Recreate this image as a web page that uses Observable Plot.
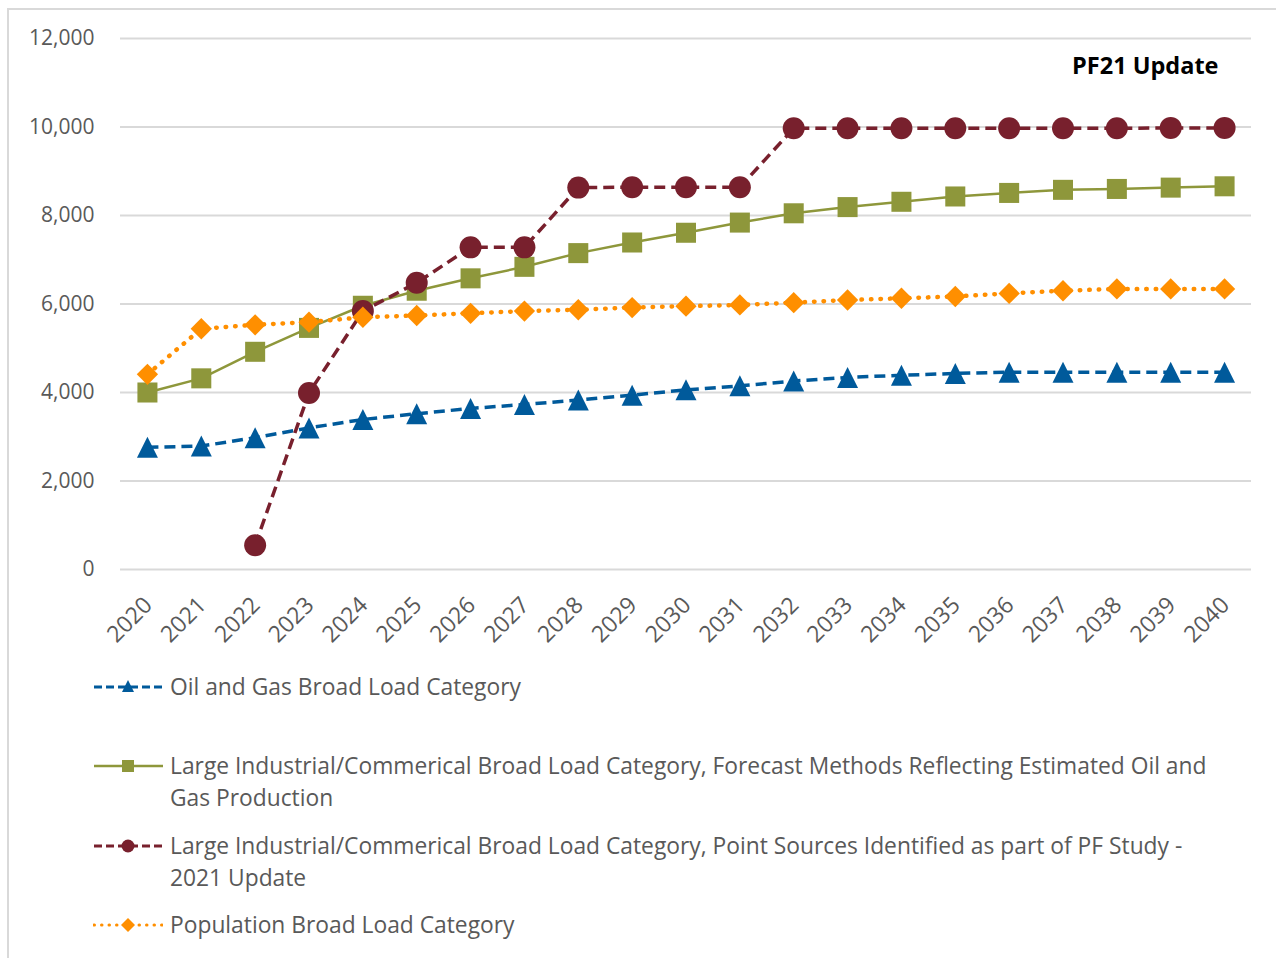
<!DOCTYPE html>
<html><head><meta charset="utf-8">
<script src="https://cdn.jsdelivr.net/npm/d3@7"></script>
<script src="https://cdn.jsdelivr.net/npm/@observablehq/plot@0.6"></script>
<style>
html,body{margin:0;padding:0;background:#fff;overflow:hidden;width:1276px;height:958px;}
#frame{position:absolute;left:7px;top:8px;width:1400px;height:1100px;border:2px solid #d9d9d9;box-sizing:border-box;}
#chart{position:absolute;left:0;top:0;}
.item{position:absolute;left:93px;display:flex;align-items:flex-start;font-family:"Open Sans";font-size:22.8px;line-height:32px;color:#595959;white-space:nowrap;}
.item svg{flex:none;margin-right:7px;}
</style>
</head><body>
<div id="frame"></div>
<div id="chart"></div>
<div id="legend"></div>
<script>
const years = ["2020","2021","2022","2023","2024","2025","2026","2027","2028","2029","2030","2031","2032","2033","2034","2035","2036","2037","2038","2039","2040"];
const oilGas = [2760,2790,2980,3200,3390,3520,3640,3730,3830,3940,4060,4150,4260,4340,4390,4430,4460,4460,4460,4460,4460];
const largeForecast = [4000,4320,4920,5460,5960,6300,6580,6840,7150,7390,7610,7840,8050,8190,8310,8430,8510,8580,8600,8630,8660];
const pointSources = [null,null,550,3990,5840,6480,7280,7280,8630,8640,8640,8640,9970,9970,9970,9970,9970,9970,9970,9980,9980];
const population = [4410,5440,5530,5590,5700,5740,5790,5840,5870,5920,5950,5980,6030,6090,6130,6170,6240,6300,6340,6340,6340];
const yTicks = [0,2000,4000,6000,8000,10000,12000];
const seriesNames = [
  "Oil and Gas Broad Load Category",
  "Large Industrial/Commerical Broad Load Category, Forecast Methods Reflecting Estimated Oil and|Gas Production",
  "Large Industrial/Commerical Broad Load Category, Point Sources Identified as part of PF Study -|2021 Update",
  "Population Broad Load Category"
];
const colors = ["#005A9B","#8E973B","#78202D","#FF8F00"];
const chartTitle = "PF21 Update";

// isosceles triangle as tall as it is wide, centred on its bounding box
const triSymbol = {
  draw(context, size) {
    const r = Math.sqrt(size / Math.PI);
    context.moveTo(0, -r);
    context.lineTo(r, r);
    context.lineTo(-r, r);
    context.closePath();
  }
};

const toRows = vals => years.map((y,i)=>({year:y, value:vals[i]})).filter(d=>d.value!=null);
const seriesDefs = [
  {rows:toRows(oilGas), color:colors[0], dash:"11,6", width:3.5, cap:"butt", symbol:triSymbol, kind:"triangle", r:10.5},
  {rows:toRows(largeForecast), color:colors[1], dash:null, width:2.5, cap:"butt", symbol:"square", kind:"square", r:11.3},
  {rows:toRows(pointSources), color:colors[2], dash:"11,6", width:3.5, cap:"butt", symbol:"circle", kind:"circle", r:11},
  {rows:toRows(population), color:colors[3], dash:"0.5,9", width:4.5, cap:"round", symbol:"diamond2", kind:"diamond", r:9.6}
];

const seriesMarks = seriesDefs.flatMap(s => [
  Plot.line(s.rows, {x:"year", y:"value", stroke:s.color, strokeWidth:s.width, strokeDasharray:s.dash, strokeLinecap:s.cap}),
  Plot.dot(s.rows, {x:"year", y:"value", symbol:s.symbol, r:s.r, fill:s.color, stroke:"none"})
]);

const chart = Plot.plot({
  width:1276, height:660,
  marginLeft:120, marginRight:25, marginTop:38, marginBottom:91,
  style:{fontFamily:"Open Sans", fontSize:"21px", color:"#595959", background:"transparent", overflow:"visible"},
  x:{type:"point", domain:years, padding:0.5, round:false, label:null},
  y:{domain:[0,12000], label:null},
  marks:[
    Plot.ruleY(yTicks, {stroke:"#d9d9d9", strokeWidth:2}),
    Plot.axisY({ticks:yTicks, tickSize:0, tickPadding:26, tickFormat:d3.format(","), label:null, fill:"#595959"}),
    Plot.axisX({tickSize:0, tickRotate:-45, dx:1, dy:20, label:null, fill:"#595959", fontSize:23}),
    ...seriesMarks,
    Plot.text([chartTitle], {text:d=>d, frameAnchor:"top-right", dx:-33, dy:28, textAnchor:"end", lineAnchor:"middle", fontWeight:"bold", fill:"#000", fontSize:23.5})
  ]
});
document.getElementById("chart").appendChild(chart);

function swatch(i){
  const s = seriesDefs[i], c = s.color;
  const dash = s.dash ? (i===3 ? `stroke-dasharray="0.5,7" stroke-linecap="round"` : `stroke-dasharray="8,4"`) : "";
  let m = "";
  if (s.kind==="triangle") m = `<path d="M35,9 L41,21 L29,21 Z" fill="${c}"/>`;
  if (s.kind==="square") m = `<rect x="29" y="10" width="12" height="12" fill="${c}"/>`;
  if (s.kind==="circle") m = `<circle cx="35" cy="16" r="6.5" fill="${c}"/>`;
  if (s.kind==="diamond") m = `<path d="M35,9 L42,16 L35,23 L28,16 Z" fill="${c}"/>`;
  return `<svg width="70" height="32"><line x1="1" y1="16" x2="70" y2="16" stroke="${c}" stroke-width="${s.dash?3:2.5}" ${dash}/>${m}</svg>`;
}
const tops = [671, 750, 830, 909];
const legend = document.getElementById("legend");
seriesNames.forEach((name,i)=>{
  const div = document.createElement("div");
  div.className = "item";
  div.style.top = tops[i] + "px";
  div.innerHTML = swatch(i) + `<div>${name.split("|").join("<br>")}</div>`;
  legend.appendChild(div);
});
</script>
</body></html>
